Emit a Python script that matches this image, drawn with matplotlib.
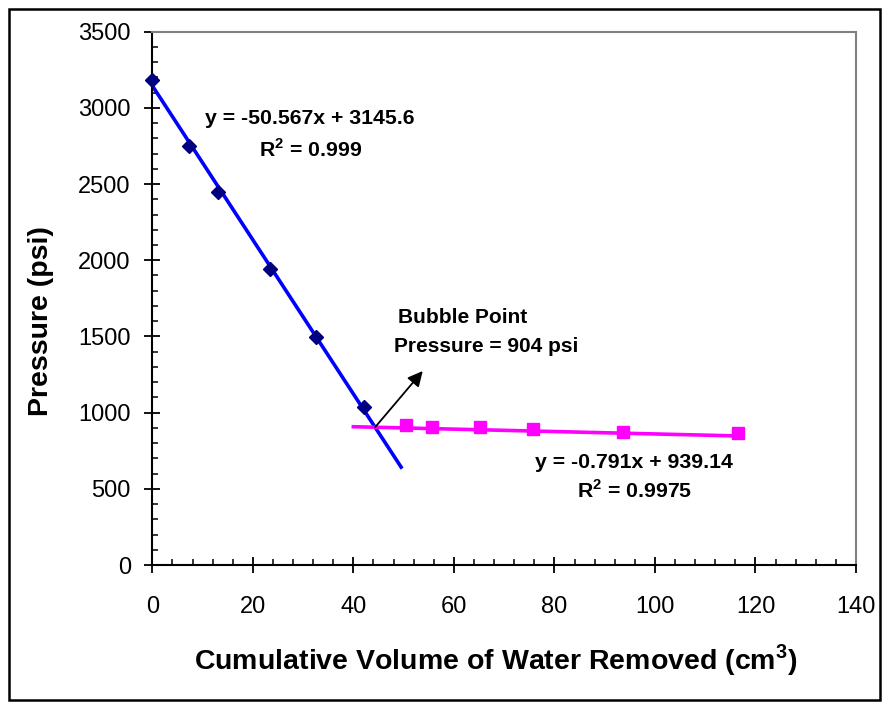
import matplotlib
matplotlib.use("Agg")
import matplotlib.pyplot as plt
from matplotlib.patches import Rectangle
from matplotlib.ticker import MultipleLocator
import numpy as np

plt.rcParams["font.family"] = ["Liberation Sans", "DejaVu Sans"]
plt.rcParams["mathtext.fontset"] = "custom"
plt.rcParams["mathtext.rm"] = "Liberation Sans"
plt.rcParams["mathtext.bf"] = "Liberation Sans:bold"

# Single-phase region (above bubble point)
vol_liquid = [0.0, 7.4, 13.0, 23.4, 32.6, 42.1]
p_liquid = [3180, 2750, 2450, 1940, 1495, 1040]

# Two-phase region (below bubble point)
vol_gas = [50.5, 55.6, 65.2, 75.8, 93.7, 116.5]
p_gas = [920, 905, 903, 891, 876, 865]

# Linear fits shown on the chart
slope1, icept1 = -50.567, 3145.6
slope2, icept2 = -0.791, 939.14
fit1_range = [0.0, 49.5]
fit2_range = [40.0, 117.0]

x_ticks = [0, 20, 40, 60, 80, 100, 120, 140]
y_ticks = [0, 500, 1000, 1500, 2000, 2500, 3000, 3500]

fig = plt.figure(figsize=(8.88, 7.08), dpi=100)
ax = fig.add_axes([152.3 / 888, 1 - 565 / 708, (856 - 152.3) / 888, (565 - 31.7) / 708])

x1 = np.array(fit1_range)
ax.plot(x1, slope1 * x1 + icept1, color="#0000FF", lw=2.6, zorder=2)
x2 = np.array(fit2_range)
ax.plot(x2, slope2 * x2 + icept2, color="#FF00FF", lw=2.6, zorder=2)

ax.plot(vol_liquid, p_liquid, ls="none", marker="D", ms=7.5, color="#000080",
        mec="#000080", zorder=3, clip_on=False)
ax.plot(vol_gas, p_gas, ls="none", marker="s", ms=8.5, color="#FF00FF",
        mec="#FF00FF", zorder=3, clip_on=False)

# Bubble point = intersection of the two fits
xb = (icept2 - icept1) / (slope1 - slope2)
yb = slope1 * xb + icept1
ax.annotate("", xy=(53.8, 1273), xytext=(xb, yb),
            arrowprops=dict(arrowstyle="-|>,head_length=0.9,head_width=0.45",
                            color="black", lw=1.3, shrinkA=0, shrinkB=0),
            zorder=4)

ax.text(48.8, 1625, "Bubble Point", fontsize=15, fontweight="bold",
        ha="left", va="center")
ax.text(48.1, 1431, "Pressure = 904 psi", fontsize=15, fontweight="bold",
        ha="left", va="center")

ax.text(31.4, 2932, "y = -50.567x + 3145.6", fontsize=15.3, fontweight="bold",
        ha="center", va="center")
ax.text(31.4, 2724, r"R$^{\mathbf{2}}$ = 0.999", fontsize=15.3, fontweight="bold",
        ha="center", va="center")
ax.text(95.8, 671, "y = -0.791x + 939.14", fontsize=15.3, fontweight="bold",
        ha="center", va="center")
ax.text(96.0, 492, r"R$^{\mathbf{2}}$ = 0.9975", fontsize=15.3, fontweight="bold",
        ha="center", va="center")

ax.set_xlim(0, 140)
ax.set_ylim(0, 3500)
ax.set_xticks(x_ticks)
ax.set_yticks(y_ticks)
ax.xaxis.set_minor_locator(MultipleLocator(4))
ax.yaxis.set_minor_locator(MultipleLocator(100))

ax.tick_params(which="major", direction="inout", length=11, width=1.3,
               labelsize=17, color="black")
ax.tick_params(which="minor", direction="in", length=4, width=1.1, color="black")
ax.tick_params(axis="y", which="major", pad=10)
ax.tick_params(axis="x", which="major", pad=17)

for side in ("left", "bottom"):
    ax.spines[side].set_color("black")
    ax.spines[side].set_linewidth(1.5)
for side in ("top", "right"):
    ax.spines[side].set_color("#808080")
    ax.spines[side].set_linewidth(1.5)

fig.text(496 / 888, 1 - 660 / 708, r"Cumulative Volume of Water Removed (cm$^{\mathbf{3}}$)",
         fontsize=20.5, fontweight="bold", ha="center", va="center")
fig.text(41 / 888, 1 - 321 / 708, "Pressure (psi)", fontsize=20.5,
         fontweight="bold", ha="center", va="center", rotation=90)

fig.patches.append(Rectangle((8.5 / 888, 8.5 / 708), 871 / 888, 691 / 708,
                             transform=fig.transFigure, fill=False,
                             edgecolor="black", lw=1.8))

fig.savefig("out.png", dpi=100)
